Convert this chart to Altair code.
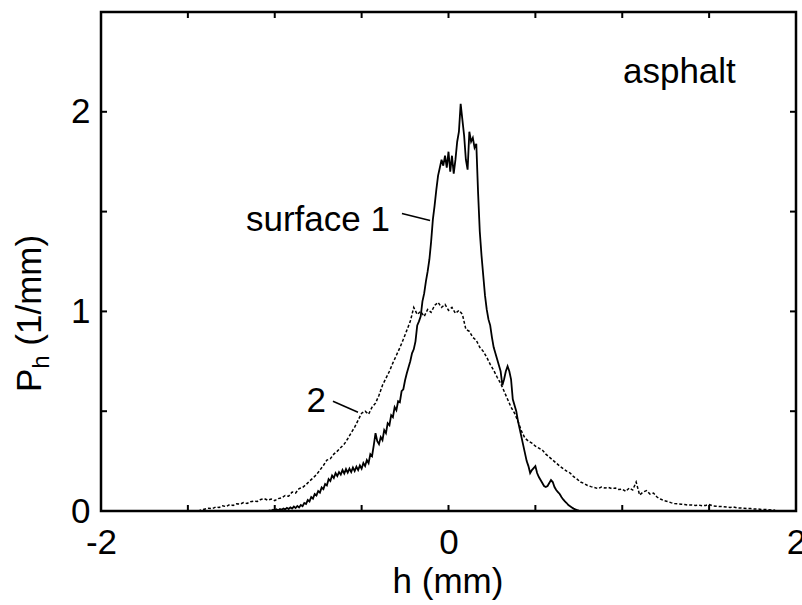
import altair as alt
import pandas as pd

# ---------------- data ----------------
H1 = [
    -1.04, -1.03, -1.02, -1.01, -1.00, -0.99, -0.98, -0.97, -0.96, -0.95,
    -0.94, -0.93, -0.92, -0.91, -0.90, -0.89, -0.88, -0.87, -0.86, -0.85,
    -0.84, -0.83, -0.82, -0.81, -0.80, -0.79, -0.78, -0.77, -0.76, -0.75,
    -0.74, -0.73, -0.72, -0.71, -0.70, -0.69, -0.68, -0.67, -0.66, -0.65,
    -0.64, -0.63, -0.62, -0.61, -0.60, -0.59, -0.58, -0.57, -0.56, -0.55,
    -0.54, -0.53, -0.52, -0.51, -0.50, -0.49, -0.48, -0.47, -0.46, -0.45,
    -0.44, -0.43, -0.42, -0.41, -0.40, -0.39, -0.38, -0.37, -0.36, -0.35,
    -0.34, -0.33, -0.32, -0.31, -0.30, -0.29, -0.28, -0.27, -0.26, -0.25,
    -0.24, -0.23, -0.22, -0.21, -0.20, -0.19, -0.18, -0.17, -0.16, -0.15,
    -0.14, -0.13, -0.12, -0.11, -0.10, -0.09, -0.08, -0.07, -0.06, -0.05,
    -0.04, -0.03, -0.02, -0.01, 0.00, 0.01, 0.02, 0.03, 0.04, 0.05,
    0.06, 0.07, 0.08, 0.09, 0.10, 0.11, 0.12, 0.13, 0.14, 0.15,
    0.16, 0.17, 0.18, 0.19, 0.20, 0.21, 0.22, 0.23, 0.24, 0.25,
    0.26, 0.27, 0.28, 0.29, 0.30, 0.31, 0.32, 0.33, 0.34, 0.35,
    0.36, 0.37, 0.38, 0.39, 0.40, 0.41, 0.42, 0.43, 0.44, 0.45,
    0.46, 0.47, 0.48, 0.49, 0.50, 0.51, 0.52, 0.53, 0.54, 0.55,
    0.56, 0.57, 0.58, 0.59, 0.60, 0.61, 0.62, 0.63, 0.64, 0.65,
    0.66, 0.67, 0.68, 0.69, 0.70, 0.71, 0.72, 0.73, 0.74, 0.75,
    0.76,
]
P1 = [
    0.000, 0.003, 0.001, 0.006, 0.002, 0.008, 0.004, 0.010, 0.006, 0.012,
    0.008, 0.016, 0.010, 0.018, 0.012, 0.022, 0.015, 0.025, 0.018, 0.030,
    0.024, 0.040, 0.035, 0.055, 0.048, 0.070, 0.062, 0.085, 0.078, 0.100,
    0.092, 0.118, 0.110, 0.135, 0.128, 0.160, 0.150, 0.178, 0.165, 0.190,
    0.175, 0.195, 0.182, 0.205, 0.188, 0.210, 0.192, 0.212, 0.195, 0.218,
    0.200, 0.222, 0.205, 0.228, 0.212, 0.240, 0.225, 0.255, 0.240, 0.285,
    0.275, 0.330, 0.390, 0.350, 0.335, 0.370, 0.355, 0.405, 0.390, 0.440,
    0.430, 0.480, 0.470, 0.520, 0.505, 0.550, 0.545, 0.600, 0.610, 0.655,
    0.690, 0.720, 0.750, 0.790, 0.810, 0.850, 0.930, 0.950, 0.975, 1.050,
    1.090, 1.150, 1.200, 1.260, 1.350, 1.460, 1.530, 1.610, 1.680, 1.720,
    1.760, 1.730, 1.780, 1.720, 1.800, 1.700, 1.780, 1.690, 1.760, 1.850,
    1.900, 2.040, 1.960, 1.880, 1.760, 1.710, 1.900, 1.850, 1.870, 1.820,
    1.840, 1.600, 1.400, 1.280, 1.180, 1.080, 1.010, 0.960, 0.930, 0.870,
    0.820, 0.790, 0.760, 0.730, 0.700, 0.630, 0.660, 0.700, 0.725, 0.700,
    0.660, 0.560, 0.530, 0.500, 0.450, 0.410, 0.370, 0.330, 0.290, 0.250,
    0.225, 0.190, 0.205, 0.215, 0.225, 0.190, 0.170, 0.155, 0.140, 0.125,
    0.120, 0.125, 0.140, 0.155, 0.145, 0.120, 0.105, 0.095, 0.085, 0.070,
    0.058, 0.048, 0.040, 0.030, 0.024, 0.018, 0.012, 0.008, 0.005, 0.002,
    0.000,
]

H2 = [
    -1.44, -1.42, -1.40, -1.38, -1.36, -1.34, -1.32, -1.30, -1.28, -1.26,
    -1.24, -1.22, -1.20, -1.18, -1.16, -1.14, -1.12, -1.10, -1.08, -1.06,
    -1.04, -1.02, -1.00, -0.98, -0.96, -0.94, -0.92, -0.90, -0.88, -0.86,
    -0.84, -0.82, -0.80, -0.78, -0.76, -0.74, -0.72, -0.70, -0.68, -0.66,
    -0.64, -0.62, -0.60, -0.58, -0.56, -0.54, -0.52, -0.50, -0.48, -0.46,
    -0.44, -0.42, -0.40, -0.38, -0.36, -0.34, -0.32, -0.30, -0.28, -0.26,
    -0.24, -0.22, -0.20, -0.18, -0.16, -0.14, -0.12, -0.10, -0.08, -0.06,
    -0.04, -0.02, 0.00, 0.02, 0.04, 0.06, 0.08, 0.10, 0.12, 0.14,
    0.16, 0.18, 0.20, 0.22, 0.24, 0.26, 0.28, 0.30, 0.32, 0.34,
    0.36, 0.38, 0.40, 0.42, 0.44, 0.46, 0.48, 0.50, 0.52, 0.54,
    0.56, 0.58, 0.60, 0.62, 0.64, 0.66, 0.68, 0.70, 0.72, 0.74,
    0.76, 0.78, 0.80, 0.82, 0.84, 0.86, 0.88, 0.90, 0.92, 0.94,
    0.96, 0.98, 1.00, 1.02, 1.04, 1.06, 1.08, 1.10, 1.12, 1.14,
    1.16, 1.18, 1.20, 1.22, 1.24, 1.26, 1.28, 1.30, 1.32, 1.34,
    1.36, 1.38, 1.40, 1.42, 1.44, 1.46, 1.48, 1.50, 1.52, 1.54,
    1.56, 1.58, 1.60, 1.62, 1.64, 1.66, 1.68, 1.70, 1.72, 1.74,
    1.76, 1.78, 1.80, 1.82, 1.84, 1.86, 1.88,
]
P2 = [
    0.000, 0.006, 0.010, 0.014, 0.012, 0.020, 0.018, 0.026, 0.022, 0.032,
    0.028, 0.036, 0.034, 0.042, 0.038, 0.046, 0.050, 0.048, 0.058, 0.062,
    0.054, 0.060, 0.052, 0.062, 0.066, 0.078, 0.074, 0.095, 0.090, 0.112,
    0.118, 0.132, 0.150, 0.165, 0.182, 0.205, 0.228, 0.255, 0.262, 0.285,
    0.300, 0.318, 0.335, 0.362, 0.392, 0.420, 0.455, 0.490, 0.500, 0.485,
    0.520, 0.540, 0.580, 0.630, 0.665, 0.700, 0.742, 0.780, 0.818, 0.860,
    0.905, 0.950, 1.020, 0.985, 1.000, 0.975, 1.010, 0.995, 1.030, 1.045,
    1.020, 1.035, 1.005, 1.020, 0.990, 1.005, 0.985, 0.910, 0.900, 0.870,
    0.855, 0.820, 0.800, 0.770, 0.735, 0.705, 0.670, 0.640, 0.600, 0.560,
    0.520, 0.490, 0.450, 0.400, 0.365, 0.350, 0.340, 0.325, 0.315, 0.305,
    0.285, 0.270, 0.255, 0.240, 0.225, 0.212, 0.200, 0.190, 0.172, 0.160,
    0.145, 0.138, 0.128, 0.122, 0.118, 0.112, 0.120, 0.115, 0.118, 0.112,
    0.115, 0.108, 0.110, 0.098, 0.115, 0.105, 0.145, 0.080, 0.095, 0.102,
    0.085, 0.090, 0.070, 0.060, 0.052, 0.048, 0.042, 0.038, 0.036, 0.034,
    0.032, 0.030, 0.030, 0.028, 0.030, 0.026, 0.028, 0.032, 0.026, 0.024,
    0.022, 0.022, 0.020, 0.018, 0.020, 0.016, 0.015, 0.014, 0.012, 0.012,
    0.010, 0.010, 0.008, 0.008, 0.006, 0.005, 0.004,
]

X_LABELS = [-2, 0, 2]
Y_LABELS = [0, 1, 2]
X_TICKS = [-1.5, -1.0, -0.5, 0.0, 0.5, 1.0, 1.5]
Y_TICKS = [0.5, 1.0, 1.5, 2.0]

ANNOT_LEFT = pd.DataFrame({"h": [1.004], "P": [2.145], "t": ["asphalt"]})
ANNOT_RIGHT = pd.DataFrame({"h": [-0.337, -0.705], "P": [1.405, 0.495],
                            "t": ["surface 1", "2"]})
POINTERS = pd.DataFrame({"h": [-0.268, -0.665], "P": [1.49, 0.55],
                         "h2": [-0.106, -0.521], "P2": [1.455, 0.495]})

# ---------------- chart ----------------
FONT = "Liberation Sans"
FS = 35
W, H = 695, 499

xs = alt.Scale(domain=[-2, 2], nice=False, zero=False)
ys = alt.Scale(domain=[0, 2.5], nice=False, zero=False)

xaxis = alt.Axis(values=X_LABELS, labelExpr="'' + datum.value", ticks=False,
                 domain=False, grid=False, labelFontSize=FS, labelFont=FONT,
                 labelColor="black", labelPadding=14, labelFlush=False,
                 labelOverlap=False, labelBaseline="top", title=None)
yaxis = alt.Axis(values=Y_LABELS, labelExpr="'' + datum.value", ticks=False,
                 domain=False, grid=False, labelFontSize=FS, labelFont=FONT,
                 labelColor="black", labelPadding=11, labelFlush=False,
                 labelOverlap=False, labelBaseline="middle", title=None)

df1 = pd.DataFrame({"h": H1, "P": P1})
df2 = pd.DataFrame({"h": H2, "P": P2})

line1 = alt.Chart(df1).mark_line(color="black", strokeWidth=1.8).encode(
    x=alt.X("h:Q", scale=xs, axis=xaxis),
    y=alt.Y("P:Q", scale=ys, axis=yaxis),
)
line2 = alt.Chart(df2).mark_line(color="black", strokeWidth=1.5,
                                 strokeDash=[3, 2]).encode(
    x=alt.X("h:Q", scale=xs),
    y=alt.Y("P:Q", scale=ys),
)

xt = pd.DataFrame({"h": X_TICKS})
yt = pd.DataFrame({"P": Y_TICKS})
tick_b = alt.Chart(xt).mark_rule(color="black", strokeWidth=2).encode(
    x=alt.X("h:Q", scale=xs), y=alt.value(H), y2=alt.value(H - 6))
tick_t = alt.Chart(xt).mark_rule(color="black", strokeWidth=2).encode(
    x=alt.X("h:Q", scale=xs), y=alt.value(0), y2=alt.value(6))
tick_l = alt.Chart(yt).mark_rule(color="black", strokeWidth=2).encode(
    y=alt.Y("P:Q", scale=ys), x=alt.value(0), x2=alt.value(6))
tick_r = alt.Chart(yt).mark_rule(color="black", strokeWidth=2).encode(
    y=alt.Y("P:Q", scale=ys), x=alt.value(W), x2=alt.value(W - 6))

ptr = alt.Chart(POINTERS).mark_rule(color="black", strokeWidth=1.5).encode(
    x=alt.X("h:Q", scale=xs), y=alt.Y("P:Q", scale=ys),
    x2="h2:Q", y2="P2:Q")

txt_l = alt.Chart(ANNOT_LEFT).mark_text(
    align="left", baseline="alphabetic", font=FONT, fontSize=FS,
    color="black").encode(x=alt.X("h:Q", scale=xs), y=alt.Y("P:Q", scale=ys),
                          text="t:N")
txt_r = alt.Chart(ANNOT_RIGHT).mark_text(
    align="right", baseline="alphabetic", font=FONT, fontSize=FS,
    color="black").encode(x=alt.X("h:Q", scale=xs), y=alt.Y("P:Q", scale=ys),
                          text="t:N")

# axis titles (y title with subscript)
xtitle = alt.Chart(pd.DataFrame({"t": ["h (mm)"]})).mark_text(
    align="center", baseline="alphabetic", font=FONT, fontSize=FS,
    color="black").encode(x=alt.value(347), y=alt.value(581), text="t:N")
yt_p = alt.Chart(pd.DataFrame({"t": ["P"]})).mark_text(
    align="left", baseline="alphabetic", angle=270, font=FONT, fontSize=FS,
    color="black").encode(x=alt.value(-60), y=alt.value(380), text="t:N")
yt_h = alt.Chart(pd.DataFrame({"t": ["h"]})).mark_text(
    align="left", baseline="alphabetic", angle=270, font=FONT, fontSize=24,
    color="black").encode(x=alt.value(-52), y=alt.value(356.7), text="t:N")
yt_u = alt.Chart(pd.DataFrame({"t": ["(1/mm)"]})).mark_text(
    align="left", baseline="alphabetic", angle=270, font=FONT, fontSize=FS,
    color="black").encode(x=alt.value(-60), y=alt.value(333.7), text="t:N")

chart = alt.layer(
    line2, line1, tick_b, tick_t, tick_l, tick_r, ptr, txt_l, txt_r,
    xtitle, yt_p, yt_h, yt_u,
).properties(
    width=W, height=H,
    padding={"left": 101, "top": 12, "right": 6, "bottom": 94},
    autosize=alt.AutoSizeParams(type="none"),
    background="white",
).configure_view(stroke="black", strokeWidth=2.5)

chart.save("out.html", embed_options={"renderer": "svg", "actions": False})
